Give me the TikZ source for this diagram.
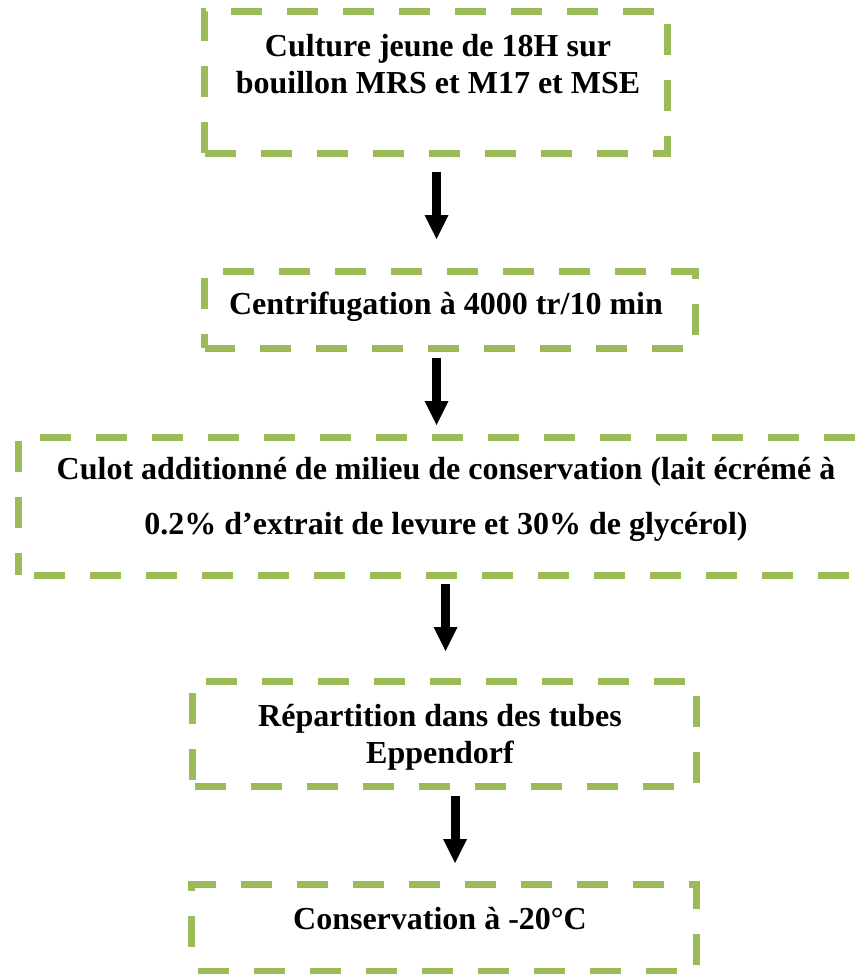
\documentclass[tikz,border=0pt]{standalone}
\usepackage{fontspec}
\setmainfont{Liberation Serif}
\usetikzlibrary{arrows.meta}
\definecolor{olivegreen}{HTML}{9BBB59}
\tikzset{
  frame/.style={shape=rectangle, inner sep=0pt, draw=none},
  outline/.style={draw=olivegreen, line width=7pt, line join=miter,
                  dash pattern=on 31pt off 25pt},
  steptext/.style={font=\bfseries\fontsize{32}{37}\selectfont, align=center,
                   inner sep=0pt, anchor=north},
  flow/.style={line width=9pt,
               -{Triangle[length=24pt,width=24pt,line width=0pt]}}
}
\begin{document}
\begin{tikzpicture}[x=1pt,y=-1pt]
\useasboundingbox (0,0) rectangle (867,974);
\clip (0,0) rectangle (867,974);

% frames of the five steps
\node[frame, minimum width=462pt, minimum height=141pt] (f1) at (436,82.5) {};
\node[frame, minimum width=490pt, minimum height=76pt]  (f2) at (450,310) {};
\node[frame, minimum width=861pt, minimum height=137pt] (f3) at (449.5,506.5) {};
\node[frame, minimum width=503pt, minimum height=104pt] (f4) at (444.5,734) {};
\node[frame, minimum width=504pt, minimum height=86pt]  (f5) at (444,928) {};

% dashed outlines, each traced from the lower left corner, clockwise
\foreach \f/\ph in {f1/0, f2/17, f3/9, f4/50, f5/32}{
  \draw[outline, dash phase=\ph pt]
    (\f.south west) -- (\f.north west) -- (\f.north east) -- (\f.south east) -- cycle;
}

% texts
\node[steptext] (t1) at (438,34) {Culture jeune de 18H sur\\bouillon MRS et M17 et MSE};
\node[steptext] (t2) at (446,292) {Centrifugation à 4000 tr/10 min};
\node[steptext, font=\bfseries\fontsize{32}{55}\selectfont] (t3) at (446,457)
  {Culot additionné de milieu de conservation (lait écrémé à\\0.2\% d’extrait de levure et 30\% de glycérol)};
\node[steptext] (t4) at (440,704) {Répartition dans des tubes\\Eppendorf};
\node[steptext] (t5) at (440,907) {Conservation à -20°C};

% arrows between the steps
\coordinate (a1s) at (436.5,172); \coordinate (a1e) at (436.5,239);
\coordinate (a2s) at (436.5,358); \coordinate (a2e) at (436.5,425);
\coordinate (a3s) at (445.5,584); \coordinate (a3e) at (445.5,651);
\coordinate (a4s) at (455,796);   \coordinate (a4e) at (455,863);
\draw[flow] (a1s) -- (a1e);
\draw[flow] (a2s) -- (a2e);
\draw[flow] (a3s) -- (a3e);
\draw[flow] (a4s) -- (a4e);
\end{tikzpicture}
\end{document}
